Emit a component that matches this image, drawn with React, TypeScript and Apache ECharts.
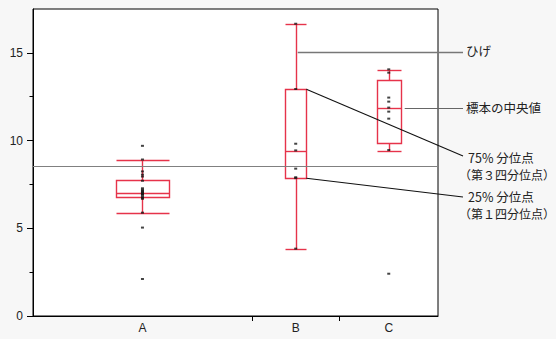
import React, { useEffect, useRef } from "react";
import * as echarts from "echarts";

// ---- data ----
const categories = ["A", "B", "C"];
const groupSizes = [20, 8, 9];
const whiskerLow = [5.85, 3.82, 9.41];
const quartile1 = [6.77, 7.85, 9.86];
const medians = [7.0, 9.39, 11.88];
const quartile3 = [7.74, 12.92, 13.47];
const whiskerHigh = [8.88, 16.63, 14.0];
const pointsA = [9.7, 8.92, 8.24, 8.06, 7.95, 7.71, 7.28, 7.2, 7.14, 7.09, 7.04, 7.0, 6.95, 6.9, 6.8, 6.74, 6.68, 5.89, 5.04, 2.11];
const pointsB = [16.66, 12.94, 9.82, 9.44, 8.4, 7.91, 7.86, 3.84];
const pointsC = [14.06, 13.87, 12.45, 12.22, 11.88, 11.65, 11.25, 9.46, 2.41];
const grandMean = 8.55;
const yMax = 17.5;
const yTickValues = [0, 5, 10, 15];
const yMinorTickValues = [2.5, 7.5, 12.5];
const whiskerNoteValue = 15.05;

const noteWhisker = "ひげ";
const noteMedian = "標本の中央値";
const noteQ3a = "75% 分位点";
const noteQ3b = "（第３四分位点）";
const noteQ1a = "25% 分位点";
const noteQ1b = "（第１四分位点）";

// ---- derived layout from group sizes ----
const totalSize = groupSizes.reduce((a, b) => a + b, 0);
const groupStarts: number[] = [];
{
  let acc = 0;
  for (const s of groupSizes) {
    groupStarts.push(acc);
    acc += s;
  }
}
const centers = groupSizes.map((s, i) => groupStarts[i] + s / 2);
const boundaries = groupStarts.slice(1);
const boxRatio = 0.243;
const halfWidths = groupSizes.map((s) => (s * boxRatio) / 2);
const allPoints = [pointsA, pointsB, pointsC];

const RED = "#e6334a";
const TEXT = "#222";
const NUM_FONT = "'Liberation Sans', Arial, sans-serif";
const JP_FONT = "'Noto Sans CJK JP', sans-serif";

export default function App() {
  const ref = useRef<HTMLDivElement>(null);

  useEffect(() => {
    if (!ref.current) return;
    const chart = echarts.init(ref.current, undefined, { renderer: "svg" });

    const boxData = categories.map((_, i) => [
      centers[i],
      halfWidths[i],
      whiskerLow[i],
      quartile1[i],
      medians[i],
      quartile3[i],
      whiskerHigh[i],
    ]);

    const scatterData: number[][] = [];
    allPoints.forEach((pts, i) => pts.forEach((v) => scatterData.push([centers[i], v])));

    const px = (v: number) => Math.round(v) + 0.5;

    const option: any = {
      animation: false,
      backgroundColor: "#f7f7f7",
      grid: {
        left: 33,
        right: 118,
        top: 9,
        bottom: 23,
        show: true,
        backgroundColor: "#ffffff",
        borderColor: "#000",
        borderWidth: 1,
      },
      xAxis: {
        type: "value",
        min: 0,
        max: totalSize,
        splitLine: { show: false },
        axisLine: { show: true, lineStyle: { color: "#000", width: 1 } },
        axisTick: {
          show: true,
          customValues: boundaries,
          length: 5,
          lineStyle: { color: "#000" },
        },
        axisLabel: {
          customValues: centers,
          margin: 6,
          color: TEXT,
          fontSize: 12,
          fontFamily: NUM_FONT,
          formatter: (v: number) => {
            const idx = centers.findIndex((c) => Math.abs(c - v) < 1e-6);
            return idx >= 0 ? categories[idx] : "";
          },
        },
      },
      yAxis: [
        {
          type: "value",
          min: 0,
          max: yMax,
          splitLine: { show: false },
          axisLine: { show: true, lineStyle: { color: "#000", width: 1 } },
          axisTick: {
            show: true,
            customValues: yTickValues,
            length: 6,
            lineStyle: { color: "#000" },
          },
          axisLabel: {
            customValues: yTickValues,
            margin: 10,
            color: TEXT,
            fontSize: 12,
            fontFamily: NUM_FONT,
          },
        },
        {
          type: "value",
          min: 0,
          max: yMax,
          position: "left",
          splitLine: { show: false },
          axisLine: { show: false },
          axisTick: {
            show: true,
            customValues: yMinorTickValues,
            length: 3.5,
            lineStyle: { color: "#000" },
          },
          axisLabel: { show: false },
        },
      ],
      series: [
        {
          type: "custom",
          z: 2,
          silent: true,
          data: boxData,
          renderItem: (_params: any, api: any) => {
            const c = api.value(0);
            const hw = api.value(1);
            const xl = px(api.coord([c - hw, 0])[0]);
            const xr = px(api.coord([c + hw, 0])[0]);
            const xc = px(api.coord([c, 0])[0]);
            const yWl = px(api.coord([c, api.value(2)])[1]);
            const yQ1 = px(api.coord([c, api.value(3)])[1]);
            const yMed = px(api.coord([c, api.value(4)])[1]);
            const yQ3 = px(api.coord([c, api.value(5)])[1]);
            const yWh = px(api.coord([c, api.value(6)])[1]);
            const st = { stroke: RED, lineWidth: 1.4, fill: "none" };
            return {
              type: "group",
              children: [
                { type: "rect", shape: { x: xl, y: yQ3, width: xr - xl, height: yQ1 - yQ3 }, style: st },
                { type: "line", shape: { x1: xl, y1: yMed, x2: xr, y2: yMed }, style: st },
                { type: "line", shape: { x1: xc, y1: yQ3, x2: xc, y2: yWh }, style: st },
                { type: "line", shape: { x1: xc, y1: yQ1, x2: xc, y2: yWl }, style: st },
                { type: "line", shape: { x1: xl, y1: yWh, x2: xr, y2: yWh }, style: st },
                { type: "line", shape: { x1: xl, y1: yWl, x2: xr, y2: yWl }, style: st },
              ],
            };
          },
        },
        {
          type: "scatter",
          z: 3,
          silent: true,
          symbol: "rect",
          symbolSize: [3, 2],
          itemStyle: { color: "#151515" },
          data: scatterData,
          markLine: {
            silent: true,
            symbol: "none",
            label: { show: false },
            lineStyle: { color: "#808080", width: 1, type: "solid" },
            data: [{ yAxis: grandMean }],
          },
        },
      ],
    };

    chart.setOption(option);

    // annotation callouts anchored to data positions
    const toPx = (x: number, y: number) =>
      chart.convertToPixel({ gridIndex: 0 }, [x, y]) as number[];
    const endX = 463;
    const bRight = toPx(centers[1] + halfWidths[1], quartile3[1]);
    const bRightLow = toPx(centers[1] + halfWidths[1], quartile1[1]);
    const bWhisk = toPx(centers[1], whiskerNoteValue);
    const cMed = toPx(centers[2] + halfWidths[2], medians[2]);

    const textStyle = (text: string, x: number, y: number, size: number) => ({
      type: "text",
      z: 100,
      x,
      y,
      style: {
        text,
        fill: TEXT,
        fontSize: size,
        lineHeight: 14,
        fontFamily: JP_FONT,
        align: "left",
        verticalAlign: "middle",
      },
    });

    chart.setOption({
      graphic: [
        {
          type: "line",
          z: 100,
          shape: { x1: bWhisk[0] + 2, y1: Math.round(bWhisk[1]) + 0.5, x2: endX, y2: Math.round(bWhisk[1]) + 0.5 },
          style: { stroke: "#777", lineWidth: 1.6 },
        },
        {
          type: "line",
          z: 100,
          shape: { x1: cMed[0] + 4, y1: Math.round(cMed[1]) + 0.5, x2: endX, y2: Math.round(cMed[1]) + 0.5 },
          style: { stroke: "#666", lineWidth: 1.2 },
        },
        {
          type: "line",
          z: 100,
          shape: { x1: bRight[0], y1: bRight[1], x2: endX, y2: 156 },
          style: { stroke: "#111", lineWidth: 1.1 },
        },
        {
          type: "line",
          z: 100,
          shape: { x1: bRightLow[0], y1: bRightLow[1], x2: endX, y2: 197 },
          style: { stroke: "#111", lineWidth: 1.1 },
        },
        textStyle(noteWhisker, 466, 50, 12.5),
        textStyle(noteMedian, 466, 107.5, 12.5),
        textStyle(noteQ3a, 468, 157, 12.5),
        textStyle(noteQ3b, 459, 174.5, 12),
        textStyle(noteQ1a, 468, 196, 12.5),
        textStyle(noteQ1b, 459, 213.5, 12),
      ],
    });

    return () => chart.dispose();
  }, []);

  return (
    <div
      ref={ref}
      style={{ position: "fixed", left: 0, top: 0, width: 556, height: 339 }}
    />
  );
}
